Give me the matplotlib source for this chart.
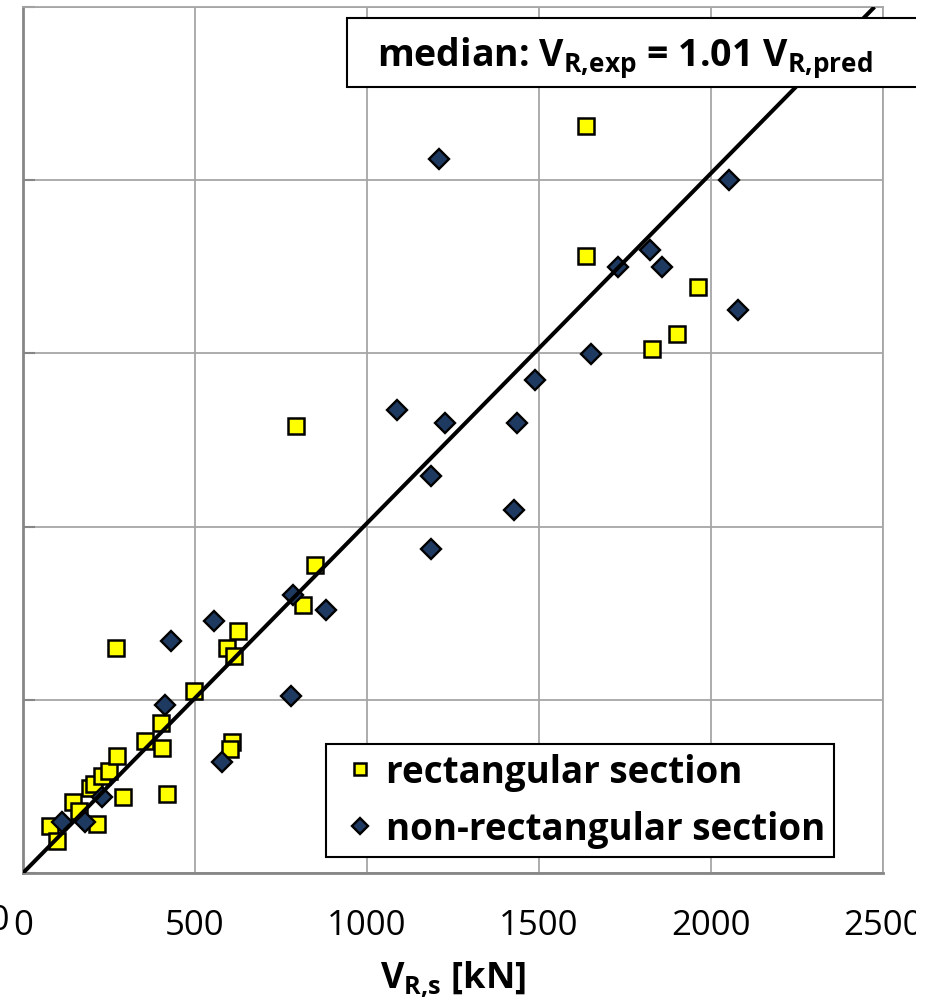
import numpy as np
import matplotlib.pyplot as plt
from matplotlib.patches import Rectangle

plt.rcParams['font.family'] = ['Open Sans', 'DejaVu Sans']
plt.rcParams['mathtext.fontset'] = 'custom'
plt.rcParams['mathtext.rm'] = 'Open Sans'
plt.rcParams['mathtext.bf'] = 'Open Sans:bold'
plt.rcParams['mathtext.it'] = 'Open Sans:italic'

# rectangular section: V_R,s (predicted) and V_R (experiment) in kN
rect_pred = [78, 100, 146, 164, 195, 205, 214, 229, 250, 272, 290, 270, 356, 402,
             404, 418, 496, 592, 613, 607, 603, 626, 794, 815, 850, 1637, 1638,
             1829, 1902, 1963]
rect_exp = [137, 93, 205, 180, 246, 258, 142, 280, 295, 339, 220, 649, 381, 433,
            362, 228, 525, 649, 626, 377, 358, 700, 1290, 774, 890, 2157, 1780,
            1513, 1556, 1691]

# non-rectangular section
nonrect_pred = [113, 180, 229, 413, 429, 556, 579, 780, 785, 882, 1086, 1186, 1187,
                1209, 1228, 1427, 1435, 1487, 1650, 1730, 1824, 1858, 2053, 2079]
nonrect_exp = [148, 147, 219, 486, 670, 728, 320, 510, 803, 759, 1337, 1146, 935,
               2062, 1300, 1049, 1300, 1423, 1498, 1749, 1799, 1749, 2000, 1625]

median_factor = 1.01
ticks = [0, 500, 1000, 1500, 2000, 2500]

W, H = 934, 1003
fig = plt.figure(figsize=(W / 100, H / 100), dpi=100)
ax = fig.add_axes([23 / W, 1 - 874 / H, 860 / W, 866 / H])

ax.plot(rect_pred, rect_exp, 's', ms=11.2, mfc='#FFFF00', mec='black', mew=1.8,
        ls='none', label='rectangular section', zorder=3)
ax.plot(nonrect_pred, nonrect_exp, 'D', ms=10.2, mfc='#1F3A60', mec='black', mew=1.7,
        ls='none', label='non-rectangular section', zorder=4)

ax.plot([0, 2500 / median_factor], [0, 2500], color='black', lw=2.9, zorder=5,
        solid_capstyle='butt')

ax.set_xlim(0, 2500)
ax.set_ylim(0, 2500)
ax.set_xticks(ticks)
ax.set_yticks(ticks)
ax.set_yticklabels([])
ax.grid(True, color='#A6A6A6', lw=1.3)
ax.set_axisbelow(True)
ax.tick_params(axis='x', length=0, pad=25, labelsize=25)
ax.tick_params(axis='y', direction='in', length=8.5, width=1.5, color='#868686')
for s in ['left', 'bottom']:
    ax.spines[s].set_color('#868686')
    ax.spines[s].set_linewidth(2)
for s in ['top', 'right']:
    ax.spines[s].set_color('#A6A6A6')
    ax.spines[s].set_linewidth(1.3)

ax.set_xlabel(r'$\mathbf{V}_{\mathbf{R{,}s}}$ [kN]', fontsize=26, fontweight='bold',
              labelpad=12)

# neighbouring chart's tick label, cut by the crop
fig.text(10 / W, 1 - 921 / H, '2500', ha='right', va='center', fontsize=25)

leg = ax.legend(loc='upper left', bbox_to_anchor=(326 / W, 1 - 745 / H),
                bbox_transform=fig.transFigure, borderaxespad=0,
                prop={'weight': 'bold', 'size': 26.5}, handlelength=1.35,
                handletextpad=0.02, borderpad=0.25, labelspacing=0.5,
                markerscale=0.8, fancybox=False, framealpha=1, edgecolor='black')
leg.get_frame().set_linewidth(1.5)

# median box
fig.patches.append(Rectangle((347 / W, 1 - 88 / H), (950 - 347) / W, 69 / H,
                             transform=fig.transFigure, facecolor='white',
                             edgecolor='black', lw=1.5, zorder=6))
fig.text(625 / W, 1 - 66 / H,
         r'median: $\mathbf{V}_{\mathbf{R{,}exp}}$ = 1.01 $\mathbf{V}_{\mathbf{R{,}pred}}$',
         ha='center', va='baseline', fontsize=27, fontweight='bold', zorder=7)

# white margin at the right edge of the crop
fig.patches.append(Rectangle((916 / W, 0), 18 / W, 1, transform=fig.transFigure,
                             facecolor='white', edgecolor='none', zorder=10))

fig.savefig('out.png', dpi=100)
